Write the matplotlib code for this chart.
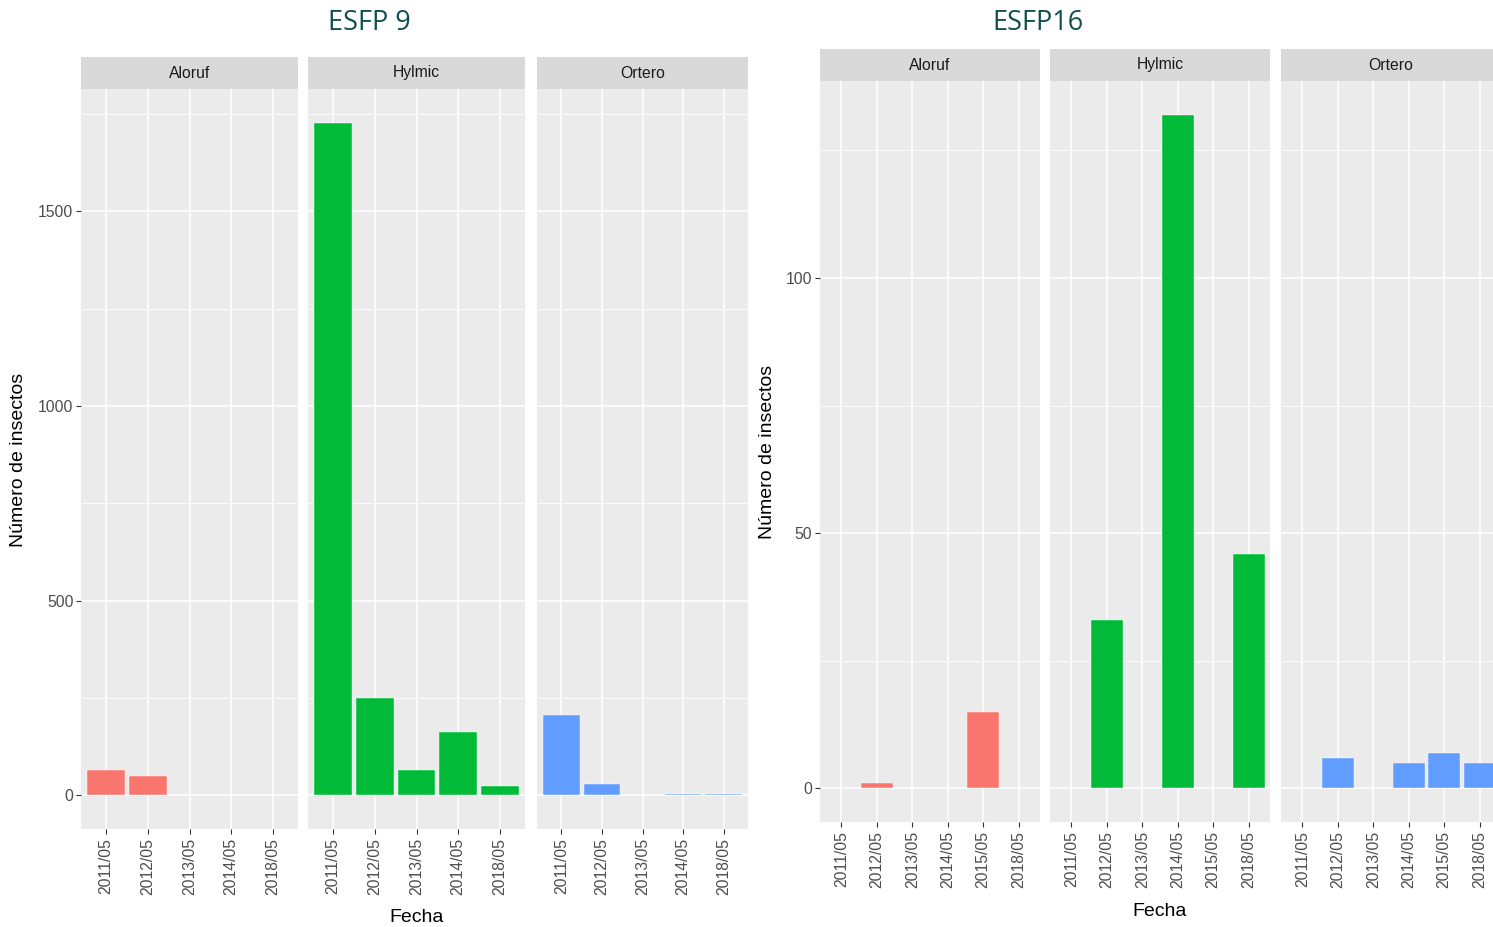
import matplotlib.pyplot as plt

W, H = 1493, 927
plt.rcParams['font.family'] = ['Liberation Sans', 'DejaVu Sans']

especies = ["Aloruf", "Hylmic", "Ortero"]
colores = ["#F8766D", "#00BA38", "#619CFF"]

# ESFP 9
fechas_9 = ["2011/05", "2012/05", "2013/05", "2014/05", "2018/05"]
aloruf_9 = [66, 49, None, None, None]
hylmic_9 = [1728, 251, 66, 164, 23]
ortero_9 = [207, 28, None, 3, 3]

# ESFP16
fechas_16 = ["2011/05", "2012/05", "2013/05", "2014/05", "2015/05", "2018/05"]
aloruf_16 = [None, 1, None, None, 15, None]
hylmic_16 = [None, 33, None, 132, None, 46]
ortero_16 = [None, 6, None, 5, 7, 5]

fig = plt.figure(figsize=(W / 100, H / 100), dpi=100)


def px_axes(x0, y0, x1, y1):
    return fig.add_axes([x0 / W, 1 - y1 / H, (x1 - x0) / W, (y1 - y0) / H])


def faceta(x0, x1, y_strip, y_top, y_bot, nombre, fechas, valores, color,
           ylim, yticks, yminor, primera):
    ax = px_axes(x0, y_top, x1, y_bot)
    ax.set_facecolor("#EBEBEB")
    for i, v in enumerate(valores):
        if v is not None:
            ax.bar(i, v, width=0.9, color=color, edgecolor="#ffffff",
                   linewidth=0.3, zorder=3)
    ax.set_xlim(-0.6, len(fechas) - 0.4)
    ax.set_ylim(*ylim)
    ax.set_xticks(range(len(fechas)))
    ax.set_xticklabels(fechas, rotation=90, fontsize=11.3, color="#4D4D4D")
    ax.set_yticks(yticks)
    ax.set_yticks(yminor, minor=True)
    ax.grid(which="major", color="white", linewidth=1.1, zorder=0)
    ax.grid(which="minor", axis="y", color="white", linewidth=0.55, zorder=0)
    ax.set_axisbelow(True)
    for s in ax.spines.values():
        s.set_visible(False)
    ax.tick_params(axis="x", length=3.5, width=0.8, color="#333333", pad=3)
    ax.tick_params(axis="y", which="minor", length=0)
    if primera:
        ax.set_yticklabels([str(t) for t in yticks], fontsize=11.3, color="#4D4D4D")
        ax.tick_params(axis="y", which="major", length=3.5, width=0.8,
                       color="#333333", pad=2)
    else:
        ax.tick_params(axis="y", which="major", length=0, labelleft=False)

    tira = px_axes(x0, y_strip, x1, y_top)
    tira.set_facecolor("#D9D9D9")
    tira.set_xticks([])
    tira.set_yticks([])
    for s in tira.spines.values():
        s.set_visible(False)
    tira.text(0.5, 0.5, nombre, ha="center", va="center", fontsize=11.3,
              color="#1A1A1A", transform=tira.transAxes)
    return ax


# Left chart
series_9 = [aloruf_9, hylmic_9, ortero_9]
bordes_9 = [(81, 298), (308, 525), (537, 748)]
for k in range(3):
    faceta(bordes_9[k][0], bordes_9[k][1], 57, 89, 829, especies[k], fechas_9,
           series_9[k], colores[k], (-86.4, 1814.4), [0, 500, 1000, 1500],
           [250, 750, 1250, 1750], k == 0)

# Right chart
series_16 = [aloruf_16, hylmic_16, ortero_16]
bordes_16 = [(820, 1040), (1050, 1270), (1281, 1501)]
for k in range(3):
    faceta(bordes_16[k][0], bordes_16[k][1], 49, 81, 822, especies[k], fechas_16,
           series_16[k], colores[k], (-6.6, 138.6), [0, 50, 100],
           [25, 75, 125], k == 0)

# Axis titles
fig.text(19 / W, 1 - 460 / H, "Número de insectos", rotation=90, ha="center",
         va="center", fontsize=14)
fig.text(768 / W, 1 - 452 / H, "Número de insectos", rotation=90, ha="center",
         va="center", fontsize=14)
fig.text(417 / W, 1 - 918 / H, "Fecha", ha="center", va="center", fontsize=14)
fig.text(1160 / W, 1 - 911 / H, "Fecha", ha="center", va="center", fontsize=14)

# Chart titles
fig.text(369 / W, 1 - 23 / H, "ESFP 9", ha="center", va="center", fontsize=19.5,
         color="#124E4E", family=["Open Sans", "DejaVu Sans"])
fig.text(1038 / W, 1 - 23 / H, "ESFP16", ha="center", va="center", fontsize=19.5,
         color="#124E4E", family=["Open Sans", "DejaVu Sans"])

fig.savefig("out.png", dpi=100)
